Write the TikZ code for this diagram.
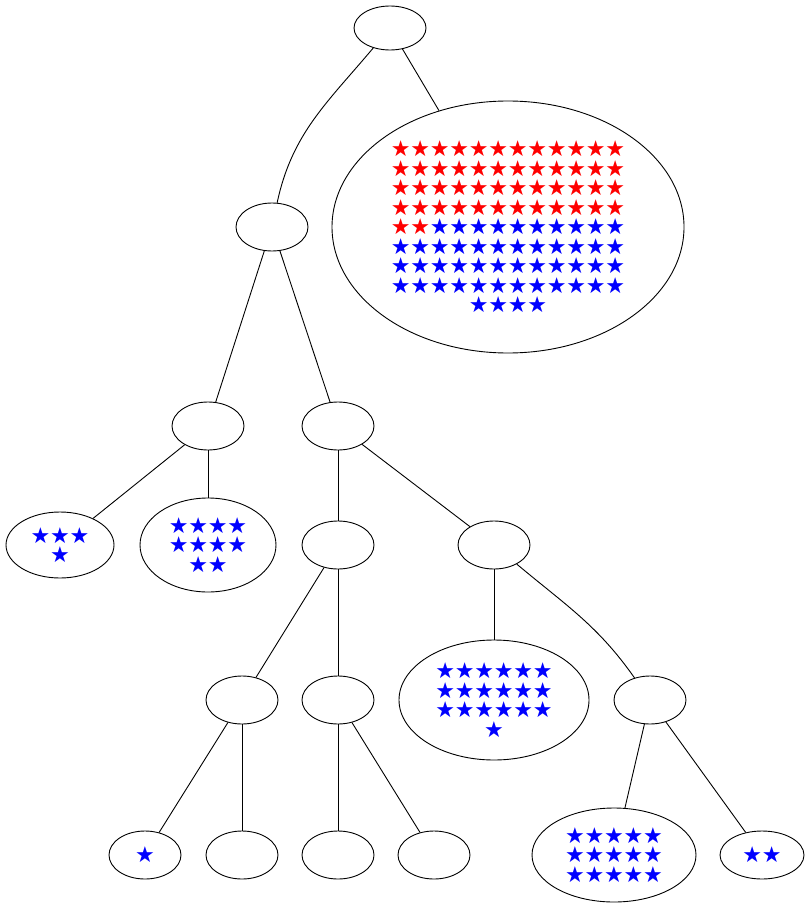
\documentclass[tikz,border=0pt]{standalone}
\usepackage{fontspec}
\newfontfamily\symf{DejaVu Sans}
\usetikzlibrary{shapes.geometric}
\newcommand{\sR}{\makebox[19.5pt]{\textcolor{red}{★}}}
\newcommand{\sB}{\makebox[19.5pt]{\textcolor{blue}{★}}}
\newcommand{\rowR}{\sR\sR\sR\sR\sR\sR\sR\sR\sR\sR\sR\sR}
\newcommand{\rowB}{\sB\sB\sB\sB\sB\sB\sB\sB\sB\sB\sB\sB}
\begin{document}
\begin{tikzpicture}[x=1pt,y=-1pt,
 nd/.style={ellipse,draw,line width=0.9pt,minimum width=72pt,minimum height=48pt,inner sep=0pt,
   font=\symf\fontsize{22}{19.5}\selectfont,align=center,text=blue},
 ed/.style={line width=0.9pt}]
\useasboundingbox (0,0) rectangle (809,909);
\node[nd,minimum width=72pt,minimum height=44pt] (root) at (390,28) {};
\node[nd,minimum width=352pt,minimum height=252pt] (big) at (508,227) {\rowR\\\rowR\\\rowR\\\rowR\\\sR\sR\sB\sB\sB\sB\sB\sB\sB\sB\sB\sB\\\rowB\\\rowB\\\rowB\\\sB\sB\sB\sB};
\node[nd] (n1) at (272,227) {};
\node[nd] (n2) at (208,426) {};
\node[nd] (n3) at (338,426) {};
\node[nd,minimum width=108pt,minimum height=66pt] (s3) at (60,545) {\sB\sB\sB\\\sB};
\node[nd,minimum width=136pt,minimum height=94pt] (s10) at (208,545) {\sB\sB\sB\sB\\\sB\sB\sB\sB\\\sB\sB};
\node[nd] (n4) at (338,545) {};
\node[nd] (n5) at (494,545) {};
\node[nd] (n6) at (242,700) {};
\node[nd] (n7) at (338,700) {};
\node[nd,minimum width=190pt,minimum height=120pt] (s19) at (494,700) {\sB\sB\sB\sB\sB\sB\\\sB\sB\sB\sB\sB\sB\\\sB\sB\sB\sB\sB\sB\\\sB};
\node[nd] (n8) at (650,700) {};
\node[nd] (l1) at (145,855) {\sB};
\node[nd] (l2) at (242,855) {};
\node[nd] (l3) at (338,855) {};
\node[nd] (l4) at (434,855) {};
\node[nd,minimum width=164pt,minimum height=94pt] (s15) at (614,855) {\sB\sB\sB\sB\sB\\\sB\sB\sB\sB\sB\\\sB\sB\sB\sB\sB};
\node[nd,minimum width=84pt,minimum height=48pt] (s2) at (762,855) {\sB\sB};
\draw[ed] (root) to[out=-130,in=78] (n1);
\draw[ed] (root) -- (big);
\draw[ed] (n1) -- (n2);
\draw[ed] (n1) -- (n3);
\draw[ed] (n2) -- (s3);
\draw[ed] (n2) -- (s10);
\draw[ed] (n3) -- (n4);
\draw[ed] (n3) -- (n5);
\draw[ed] (n4) -- (n6);
\draw[ed] (n4) -- (n7);
\draw[ed] (n5) -- (s19);
\draw[ed] (n5) to[out=-40,in=125] (n8);
\draw[ed] (n6) -- (l1);
\draw[ed] (n6) -- (l2);
\draw[ed] (n7) -- (l3);
\draw[ed] (n7) -- (l4);
\draw[ed] (n8) -- (s15);
\draw[ed] (n8) -- (s2);
\end{tikzpicture}
\end{document}
